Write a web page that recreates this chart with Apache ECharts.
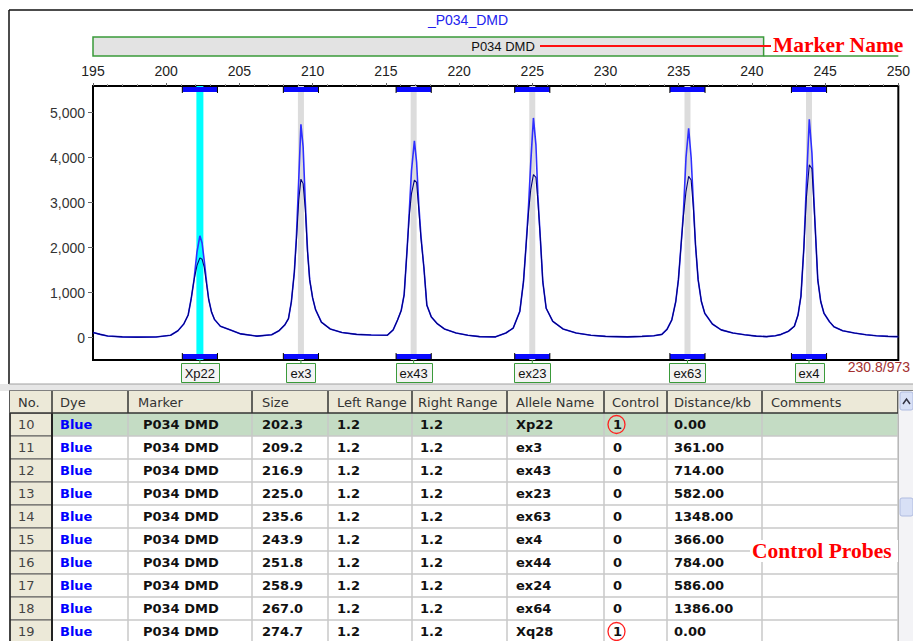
<!DOCTYPE html>
<html><head><meta charset="utf-8">
<script src="https://cdn.jsdelivr.net/npm/echarts@6/dist/echarts.min.js"></script>
<style>html,body{margin:0;padding:0;background:#fff}#c{width:913px;height:641px}</style>
</head><body><div id="c"></div>
<script>
// ---------- DATA ----------
const sizes = [
195.0, 195.5, 196.0, 197.0, 198.0, 199.3,
200.3, 200.8, 201.2, 201.5, 201.7, 201.9, 202.1, 202.3, 202.45, 202.6, 202.75, 202.9, 203.1, 203.3, 203.7, 204.3, 205.1,
206.2, 207.2, 207.7, 208.1, 208.35, 208.55, 208.75, 208.9, 209.05, 209.2, 209.35, 209.5, 209.65, 209.8, 210.0, 210.2, 210.6, 211.2, 212.0, 213.0, 214.0, 215.1,
215.5, 215.8, 216.05, 216.25, 216.45, 216.6, 216.75, 216.95, 217.1, 217.25, 217.4, 217.6, 217.8, 218.1, 218.5, 219.0, 219.8, 220.6, 221.4, 222.5,
223.2, 223.7, 224.15, 224.4, 224.58, 224.75, 224.9, 225.08, 225.25, 225.38, 225.55, 225.72, 225.95, 226.4, 227.1, 228.0, 229.0, 230.0, 231.5,
232.5, 233.3, 233.85, 234.2, 234.53, 234.8, 234.98, 235.15, 235.32, 235.5, 235.68, 235.85, 236.0, 236.15, 236.33, 236.55, 236.78, 237.3, 237.9, 238.7, 239.5, 240.3,
241.0, 241.6, 242.0, 242.5, 242.9, 243.15, 243.35, 243.55, 243.72, 243.92, 244.1, 244.28, 244.5, 244.7, 244.92, 245.3, 245.6, 246.2, 247.0, 247.8, 248.5, 249.3, 250.0
];
const brightRfu = [
110, 70, 35, 15, 8, 10,
50, 150, 300, 500, 850, 1280, 1900, 2260, 2100, 1700, 1250, 850, 560, 400, 250, 180, 80,
30, 60, 150, 280, 420, 800, 1450, 2300, 3500, 4740, 4240, 3000, 1950, 1280, 880, 620, 340, 190, 110, 70, 55, 50,
170, 390, 600, 950, 1950, 2800, 3700, 4370, 3900, 2950, 2250, 1550, 720, 460, 310, 190, 100, 50, 20, 15,
100, 210, 580, 1240, 2060, 2950, 3910, 4880, 4280, 3170, 2210, 1240, 650, 360, 190, 100, 50, 25, 15,
25, 40, 70, 180, 390, 800, 1280, 2000, 2760, 4000, 4650, 4000, 3000, 2050, 1280, 800, 540, 300, 170, 100, 60, 30,
20, 40, 70, 140, 250, 500, 920, 2000, 3400, 4850, 4100, 2760, 1280, 800, 540, 350, 240, 150, 100, 60, 40, 25, 20
];
const darkRfu = [
110, 70, 35, 15, 8, 10,
50, 150, 300, 500, 850, 1280, 1600, 1770, 1740, 1560, 1200, 850, 560, 400, 250, 180, 80,
30, 60, 150, 280, 420, 800, 1450, 2200, 3050, 3520, 3420, 2850, 1900, 1280, 880, 620, 340, 190, 110, 70, 55, 50,
170, 390, 600, 950, 1950, 2700, 3200, 3500, 3450, 2850, 2200, 1550, 720, 460, 310, 190, 100, 50, 20, 15,
100, 210, 580, 1240, 2060, 2800, 3300, 3620, 3560, 3050, 2210, 1240, 650, 360, 190, 100, 50, 25, 15,
25, 40, 70, 180, 390, 800, 1280, 2000, 2700, 3250, 3580, 3500, 2900, 2050, 1280, 800, 540, 300, 170, 100, 60, 30,
20, 40, 70, 140, 250, 500, 920, 2000, 3100, 3840, 3750, 2700, 1280, 800, 540, 350, 240, 150, 100, 60, 40, 25, 20
];
const panelTitle = '_P034_DMD';
const markerName = 'P034 DMD';
const markerRange = [195, 240.8];
const xRange = [195, 250];
const yTickValues = [0, 1000, 2000, 3000, 4000, 5000];
const cursorText = '230.8/973';

const tableHeaders = ['No.', 'Dye', 'Marker', 'Size', 'Left Range', 'Right Range', 'Allele Name', 'Control', 'Distance/kb', 'Comments'];
const tableNo = [10, 11, 12, 13, 14, 15, 16, 17, 18, 19];
const tableDye = ['Blue', 'Blue', 'Blue', 'Blue', 'Blue', 'Blue', 'Blue', 'Blue', 'Blue', 'Blue'];
const tableMarker = ['P034 DMD', 'P034 DMD', 'P034 DMD', 'P034 DMD', 'P034 DMD', 'P034 DMD', 'P034 DMD', 'P034 DMD', 'P034 DMD', 'P034 DMD'];
const tableSize = [202.3, 209.2, 216.9, 225.0, 235.6, 243.9, 251.8, 258.9, 267.0, 274.7];
const tableLeft = [1.2, 1.2, 1.2, 1.2, 1.2, 1.2, 1.2, 1.2, 1.2, 1.2];
const tableRight = [1.2, 1.2, 1.2, 1.2, 1.2, 1.2, 1.2, 1.2, 1.2, 1.2];
const tableAllele = ['Xp22', 'ex3', 'ex43', 'ex23', 'ex63', 'ex4', 'ex44', 'ex24', 'ex64', 'Xq28'];
const tableControl = [1, 0, 0, 0, 0, 0, 0, 0, 0, 1];
const tableDistance = [0.00, 361.00, 714.00, 582.00, 1348.00, 366.00, 784.00, 586.00, 1386.00, 0.00];
const tableComments = ['', '', '', '', '', '', '', '', '', ''];
const selectedRow = 0;

// ---------- LAYOUT ----------
const chart = echarts.init(document.getElementById('c'), null, {renderer: 'svg', width: 913, height: 641});
const mctx = document.createElement('canvas').getContext('2d');
function tw(text, font) { mctx.font = font; return mctx.measureText(text).width; }
const AX_FONT = '"Liberation Sans", Arial, sans-serif';
const TB_FONT = '"DejaVu Sans", Verdana, sans-serif';
const SERIF = '"Liberation Serif", "Times New Roman", serif';

const binIdx = tableSize.map((s, i) => i).filter(i => tableSize[i] >= xRange[0] && tableSize[i] <= xRange[1]);
const binData = binIdx.map(i => [tableSize[i], tableSize[i] - tableLeft[i], tableSize[i] + tableRight[i]]);

function txt(x, y, text, font, fill, align) {
  return {type: 'text', x: x, y: y, z: 50,
    style: {text: text, font: font, fill: fill, align: align || 'left', verticalAlign: 'middle',
            textAlign: align || 'left', textVerticalAlign: 'middle'}};
}

function renderBands(params, api) {
  const i = binIdx[params.dataIndex];
  const x = api.coord([api.value(0), 0])[0];
  const cs = params.coordSys;
  const sel = i === selectedRow;
  const w = sel ? 7 : 6;
  return {type: 'rect', shape: {x: x - w / 2, y: cs.y, width: w, height: cs.height},
          style: {fill: sel ? '#00ffff' : '#dcdcdc'}};
}

function renderBins(params, api) {
  const i = binIdx[params.dataIndex];
  const cx = api.coord([api.value(0), 0])[0];
  const lo = api.coord([api.value(1), 0])[0];
  const hi = api.coord([api.value(2), 0])[0];
  const cs = params.coordSys;
  const top = cs.y, bot = cs.y + cs.height;
  const name = tableAllele[i];
  const font = '13px ' + AX_FONT;
  const w = Math.round(tw(name, font)) + 8;
  const ch = [];
  [top + 1, bot - 6].forEach(y => {
    ch.push({type: 'rect', shape: {x: lo, y: y, width: hi - lo, height: 5}, style: {fill: '#0a0aff'}});
    ch.push({type: 'line', shape: {x1: lo, y1: y - 1, x2: lo, y2: y + 6}, style: {stroke: '#000', lineWidth: 1}});
    ch.push({type: 'line', shape: {x1: hi, y1: y - 1, x2: hi, y2: y + 6}, style: {stroke: '#000', lineWidth: 1}});
  });
  ch.push({type: 'line', shape: {x1: cx, y1: bot, x2: cx, y2: bot + 3}, style: {stroke: '#3a9a3a', lineWidth: 1}});
  ch.push({type: 'rect', shape: {x: Math.round(cx - w / 2) + 0.5, y: bot + 3.5, width: w, height: 19},
           style: {fill: '#f4f4f4', stroke: '#3a9a3a', lineWidth: 1}});
  ch.push({type: 'text', x: cx, y: bot + 13.5,
           style: {text: name, font: font, fill: '#111', align: 'center', verticalAlign: 'middle',
                   textAlign: 'center', textVerticalAlign: 'middle'}});
  return {type: 'group', children: ch};
}

function renderMarker(params, api) {
  const x0 = api.coord([api.value(0), 0])[0];
  const x1 = api.coord([api.value(1), 0])[0];
  const cs = params.coordSys;
  return {type: 'group', children: [
    {type: 'rect', shape: {x: x0, y: 37, width: x1 - x0, height: 19}, style: {fill: '#e3e3e3', stroke: '#3a9a3a', lineWidth: 1.5}},
    {type: 'line', shape: {x1: x1, y1: 56, x2: cs.x + cs.width, y2: 56}, style: {stroke: '#3a9a3a', lineWidth: 1.5}}
  ]};
}

// ---------- TABLE (graphic) ----------
const colX = [10, 52, 128, 252, 328, 412, 507, 604, 667, 762, 898];
const headPad = [8, 8, 10, 10, 9, 6, 9, 8, 7, 9];
const cellPad = [8, 8, 15, 10, 9, 8, 9, 9, 7, 9];
const headTop = 391, headBot = 413, rowH = 23;
const G = [];
// chart frame
G.push({type: 'line', shape: {x1: 9, y1: 10, x2: 913, y2: 10}, style: {stroke: '#111', lineWidth: 1.5}});
G.push({type: 'line', shape: {x1: 9, y1: 10, x2: 9, y2: 384}, style: {stroke: '#111', lineWidth: 1.5}});
G.push(txt(468, 20, panelTitle, '14px ' + AX_FONT, '#2222ee', 'center'));
G.push(txt(503, 46.5, markerName, '13px ' + AX_FONT, '#111', 'center'));
G.push({type: 'line', z: 50, shape: {x1: 540, y1: 46, x2: 771, y2: 46}, style: {stroke: '#ff1010', lineWidth: 2}});
G.push(txt(773, 45, 'Marker Name', 'bold 21.5px ' + SERIF, '#ff0000', 'left'));
G.push(txt(910, 367, cursorText, '14px ' + AX_FONT, '#a33030', 'right'));
// splitter
G.push({type: 'rect', shape: {x: 0, y: 384, width: 913, height: 7}, style: {fill: '#e6e6e6'}});
G.push({type: 'line', shape: {x1: 9, y1: 384, x2: 913, y2: 384}, style: {stroke: '#a0a0a0', lineWidth: 1}});
G.push({type: 'line', shape: {x1: 9, y1: 390.5, x2: 913, y2: 390.5}, style: {stroke: '#808080', lineWidth: 1}});
// table body
G.push({type: 'rect', shape: {x: 10, y: headBot, width: 888, height: 641 - headBot}, style: {fill: '#ffffff'}});
G.push({type: 'rect', shape: {x: colX[1], y: headBot + rowH * selectedRow, width: colX[10] - colX[1], height: rowH}, style: {fill: '#c4dcc4'}});
for (let r = 0; r < tableNo.length; r++) {
  const y = headBot + rowH * r;
  G.push({type: 'rect', shape: {x: colX[0], y: y, width: colX[1] - colX[0], height: rowH}, style: {fill: '#ece9d8', stroke: '#5a5a5a', lineWidth: 1}});
  G.push({type: 'line', shape: {x1: colX[1], y1: y + rowH, x2: colX[10], y2: y + rowH}, style: {stroke: '#c8c8c8', lineWidth: 1.5}});
}
for (let c = 2; c < colX.length; c++) {
  G.push({type: 'line', shape: {x1: colX[c], y1: headBot, x2: colX[c], y2: 641}, style: {stroke: '#c8c8c8', lineWidth: 1.5}});
}
G.push({type: 'line', shape: {x1: colX[1], y1: headBot, x2: colX[1], y2: 641}, style: {stroke: '#222', lineWidth: 2}});
G.push({type: 'line', shape: {x1: colX[0], y1: headTop, x2: colX[0], y2: 641}, style: {stroke: '#222', lineWidth: 1.5}});
// header
G.push({type: 'rect', shape: {x: colX[0], y: headTop, width: colX[10] - colX[0], height: headBot - headTop}, style: {fill: '#ece9d8'}});
G.push({type: 'line', shape: {x1: colX[0], y1: headBot, x2: colX[10], y2: headBot}, style: {stroke: '#333', lineWidth: 1.5}});
for (let c = 1; c < colX.length; c++) {
  G.push({type: 'line', shape: {x1: colX[c], y1: headTop, x2: colX[c], y2: headBot}, style: {stroke: '#333', lineWidth: 1.5}});
}
tableHeaders.forEach((h, c) => G.push(txt(colX[c] + headPad[c], 402, h, '13px ' + TB_FONT, '#333', 'left')));
// cells
const BOLD = 'bold 13px ' + TB_FONT;
for (let r = 0; r < tableNo.length; r++) {
  const yc = headBot + rowH * r + 11.5;
  const vals = [String(tableNo[r]), tableDye[r], tableMarker[r], tableSize[r].toFixed(1), tableLeft[r].toFixed(1),
                tableRight[r].toFixed(1), tableAllele[r], String(tableControl[r]), tableDistance[r].toFixed(2), tableComments[r]];
  vals.forEach((v, c) => {
    if (!v) return;
    let font = BOLD, fill = '#111';
    if (c === 0) { font = '13px ' + TB_FONT; fill = '#444'; }
    if (c === 1) fill = '#0000ff';
    G.push(txt(colX[c] + cellPad[c], yc, v, font, fill, 'left'));
  });
  if (tableControl[r] === 1) {
    G.push({type: 'ellipse', z: 60, shape: {cx: colX[7] + 12.5, cy: yc, rx: 8.5, ry: 9}, style: {fill: 'none', stroke: '#ff2020', lineWidth: 1.3}});
  }
}
// scrollbar
G.push({type: 'rect', shape: {x: 898, y: headTop, width: 15, height: 641 - headTop}, style: {fill: '#f3f3f6'}});
G.push({type: 'line', shape: {x1: 898.5, y1: headTop, x2: 898.5, y2: 641}, style: {stroke: '#b8b8b8', lineWidth: 1}});
G.push({type: 'rect', shape: {x: 900, y: headTop + 1, width: 13, height: 18, r: 2}, style: {fill: '#d8e0f6', stroke: '#b0bce0', lineWidth: 1}});
G.push({type: 'polyline', shape: {points: [[903, 404], [906.5, 399], [910, 404]]}, style: {stroke: '#334', lineWidth: 1.5, fill: 'none'}});
G.push({type: 'rect', shape: {x: 900, y: 498, width: 13, height: 18, r: 2}, style: {fill: '#d8e0f6', stroke: '#b0bce0', lineWidth: 1}});
// annotation
G.push({type: 'rect', z: 55, shape: {x: 750, y: 540, width: 148, height: 22}, style: {fill: '#ffffff'}});
G.push(Object.assign(txt(752, 551, 'Control Probes', 'bold 21.5px ' + SERIF, '#ff0000', 'left'), {z: 60}));

// ---------- OPTION ----------
const option = {
  animation: false,
  backgroundColor: '#ffffff',
  grid: {left: 93, top: 86, width: 815, height: 274, show: true, borderColor: '#000', borderWidth: 2, backgroundColor: 'transparent'},
  xAxis: {
    type: 'value', position: 'top', min: xRange[0], max: xRange[1], interval: 5,
    axisLine: {show: false, onZero: false},
    axisTick: {show: true, length: 3, lineStyle: {color: '#666'}},
    minorTick: {show: true, splitNumber: 5, length: 2, lineStyle: {color: '#999'}},
    splitLine: {show: false},
    axisLabel: {margin: 8, fontSize: 14, fontFamily: AX_FONT, color: '#222'}
  },
  yAxis: {
    type: 'value', min: -500, max: 5590,
    axisLine: {show: false, onZero: false},
    axisTick: {show: true, length: 5, customValues: yTickValues, lineStyle: {color: '#666'}},
    splitLine: {show: false},
    axisLabel: {margin: 8, fontSize: 14, fontFamily: AX_FONT, color: '#333', customValues: yTickValues,
                formatter: v => echarts.format.addCommas(v)}
  },
  graphic: {elements: G},
  series: [
    {type: 'custom', name: 'bands', coordinateSystem: 'cartesian2d', z: 1, clip: false, data: binData, renderItem: renderBands, silent: true},
    {type: 'line', name: 'raw', data: sizes.map((s, i) => [s, brightRfu[i]]), symbol: 'none', z: 2,
     lineStyle: {color: '#2f2fff', width: 1.6}},
    {type: 'line', name: 'processed', data: sizes.map((s, i) => [s, darkRfu[i]]), symbol: 'none', z: 3,
     lineStyle: {color: '#00007a', width: 1.1}},
    {type: 'custom', name: 'bins', coordinateSystem: 'cartesian2d', z: 4, clip: false, data: binData, renderItem: renderBins, silent: true},
    {type: 'custom', name: 'marker', coordinateSystem: 'cartesian2d', z: 4, clip: false, data: [markerRange], renderItem: renderMarker, silent: true}
  ]
};
chart.setOption(option);
</script>
</body></html>
